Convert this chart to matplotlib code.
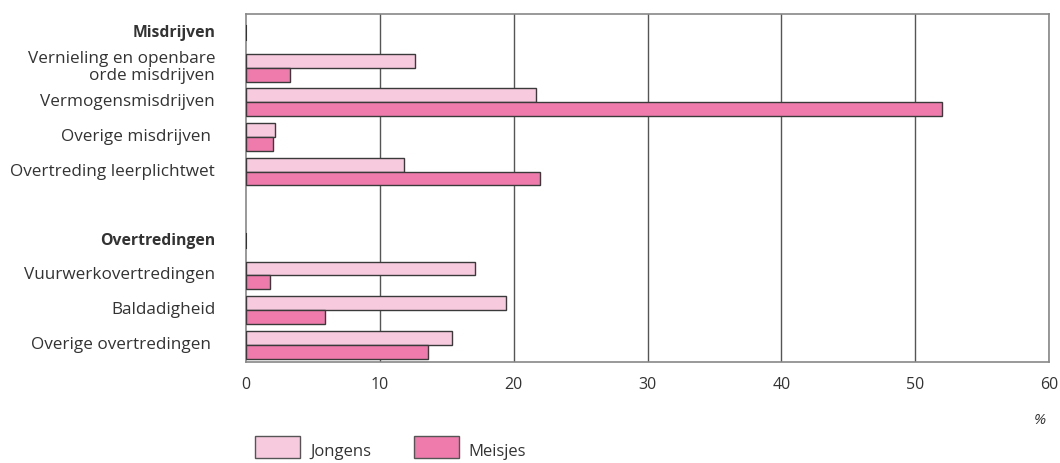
import matplotlib.pyplot as plt
import numpy as np
from matplotlib.patches import Rectangle

labels = ["Misdrijven", "Vernieling en openbare\norde misdrijven", "Vermogensmisdrijven",
          "Overige misdrijven ", "Overtreding leerplichtwet", "",
          "Overtredingen", "Vuurwerkovertredingen", "Baldadigheid", "Overige overtredingen "]
kop = [True, False, False, False, False, False, True, False, False, False]
jongens = [0, 12.6, 21.7, 2.2, 11.8, np.nan, 0, 17.1, 19.4, 15.4]
meisjes = [0, 3.3, 52.0, 2.0, 22.0, np.nan, 0, 1.8, 5.9, 13.6]
xticks = [0, 10, 20, 30, 40, 50, 60]

plt.rcParams['font.family'] = ['Open Sans', 'DejaVu Sans']
tekstkleur = '#333333'

fig = plt.figure(figsize=(10.6, 4.63), dpi=100)
ax = fig.add_axes([246/1060, 1-362/463, (1049-246)/1060, (362-14)/463])

y = np.arange(len(labels))
h = 0.4
for i in range(len(labels)):
    if kop[i]:
        # korte streep bij kopjes
        ax.plot([0, 0], [y[i]-0.2, y[i]+0.2], color='#333333', lw=1.5, zorder=3)
        continue
    if np.isnan(jongens[i]):
        continue
    ax.barh(y[i]-h/2, jongens[i], height=h, color='#f7cade', edgecolor='#3a3a3a', lw=1, zorder=3)
    ax.barh(y[i]+h/2, meisjes[i], height=h, color='#ef7bac', edgecolor='#3a3a3a', lw=1, zorder=3)

ax.set_xlim(0, 60)
ax.set_ylim(9.5, -0.55)
ax.set_xticks(xticks)
ax.set_xticklabels([str(t) for t in xticks], fontsize=11.5, color=tekstkleur)
ax.tick_params(axis='x', length=0, pad=11)
ax.set_yticks(y)
ax.set_yticklabels([])
ax.tick_params(axis='y', length=0)
for i, lab in enumerate(labels):
    ax.text(-2.3, y[i], lab, ha='right', va='center', fontsize=11.3 if kop[i] else 12.3,
            color=tekstkleur, fontweight='bold' if kop[i] else 'normal', linespacing=1.1)

for t in xticks[1:]:
    ax.axvline(t, color='#555555', lw=1, zorder=1)
for s in ax.spines.values():
    s.set_color('#888888')
    s.set_linewidth(1.2)

fig.text(1040/1060, 1-421/463, "%", fontsize=11, style='italic', color=tekstkleur, ha='center', va='center')

# legenda
fig.patches.append(Rectangle((255/1060, 1-458/463), 45/1060, 22/463, transform=fig.transFigure,
                             facecolor='#f7cade', edgecolor='#555555', lw=1))
fig.text(310/1060, 1-452/463, "Jongens", fontsize=12, color=tekstkleur, va='center')
fig.patches.append(Rectangle((414/1060, 1-458/463), 45/1060, 22/463, transform=fig.transFigure,
                             facecolor='#ef7bac', edgecolor='#555555', lw=1))
fig.text(468/1060, 1-452/463, "Meisjes", fontsize=12, color=tekstkleur, va='center')

fig.savefig("out.png", dpi=100)
